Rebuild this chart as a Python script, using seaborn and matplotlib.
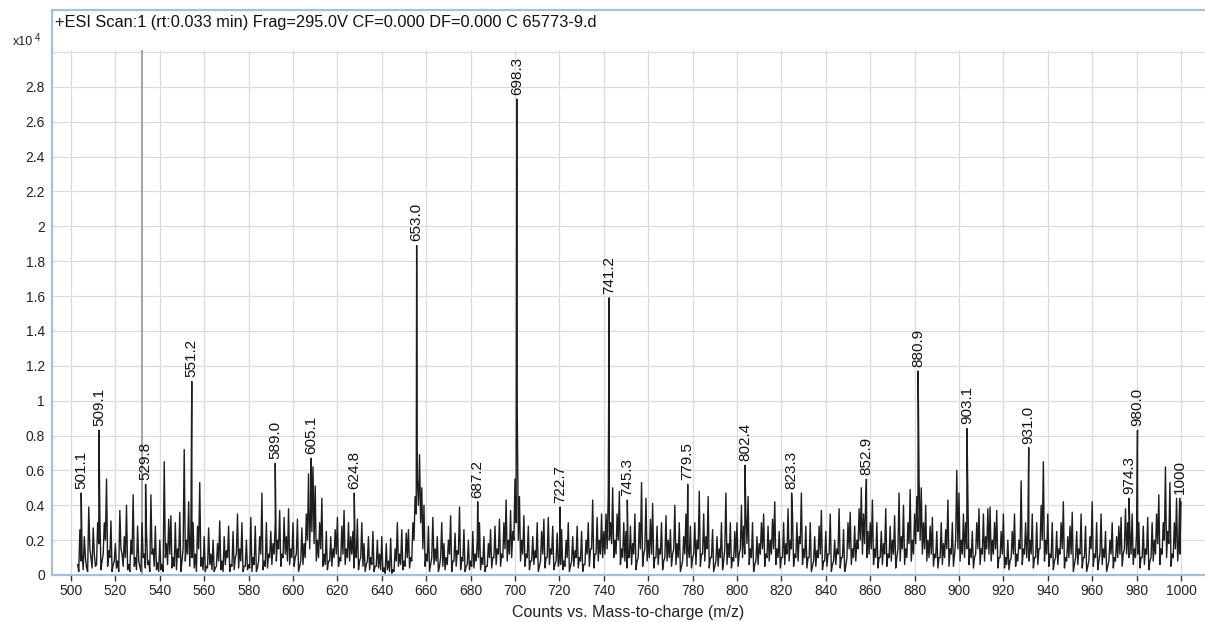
import numpy as np
import pandas as pd
import matplotlib
matplotlib.use("Agg")
import matplotlib.pyplot as plt
from matplotlib.lines import Line2D
import seaborn as sns

# ---------------- data (counts in units of 10^4) ----------------
title = "+ESI Scan:1 (rt:0.033 min) Frag=295.0V CF=0.000 DF=0.000 C 65773-9.d"
x_label = "Counts vs. Mass-to-charge (m/z)"
x_ticks = list(range(500, 1001, 20))
y_ticks = [0, 0.2, 0.4, 0.6, 0.8, 1.0, 1.2, 1.4, 1.6, 1.8, 2.0, 2.2, 2.4, 2.6, 2.8, 3.0]
y_tick_labels = ["0", "0.2", "0.4", "0.6", "0.8", "1", "1.2", "1.4", "1.6", "1.8",
                 "2", "2.2", "2.4", "2.6", "2.8", ""]

# noise tops at integer m/z (503 ... 1000)
noise_start = 503
noise_503_519 = [0.06, 0.26, 0.12, 0.22, 0.04, 0.39, 0.10, 0.27, 0.05, 0.30, 0.34, 0.08, 0.30, 0.55, 0.14, 0.31, 0.06]
noise_520_539 = [0.18, 0.08, 0.37, 0.12, 0.22, 0.40, 0.06, 0.20, 0.46, 0.10, 0.28, 0.05, 0.30, 0.12, 0.25, 0.08, 0.46, 0.15, 0.28, 0.07]
noise_540_559 = [0.20, 0.06, 0.65, 0.18, 0.32, 0.34, 0.10, 0.30, 0.15, 0.36, 0.08, 0.72, 0.20, 0.42, 0.25, 0.30, 0.12, 0.28, 0.53, 0.10]
noise_560_579 = [0.22, 0.05, 0.27, 0.12, 0.20, 0.04, 0.18, 0.31, 0.08, 0.22, 0.14, 0.28, 0.06, 0.25, 0.10, 0.35, 0.15, 0.30, 0.05, 0.20]
noise_580_599 = [0.06, 0.33, 0.10, 0.28, 0.04, 0.22, 0.47, 0.08, 0.30, 0.12, 0.25, 0.18, 0.30, 0.20, 0.37, 0.12, 0.33, 0.22, 0.38, 0.15]
noise_600_619 = [0.30, 0.10, 0.32, 0.05, 0.27, 0.18, 0.35, 0.58, 0.40, 0.62, 0.51, 0.20, 0.30, 0.44, 0.12, 0.25, 0.08, 0.22, 0.15, 0.26]
noise_620_639 = [0.33, 0.10, 0.28, 0.37, 0.15, 0.30, 0.22, 0.25, 0.12, 0.32, 0.08, 0.30, 0.18, 0.06, 0.22, 0.10, 0.25, 0.05, 0.20, 0.12]
noise_640_659 = [0.22, 0.04, 0.18, 0.08, 0.21, 0.03, 0.15, 0.30, 0.12, 0.26, 0.08, 0.24, 0.26, 0.10, 0.30, 0.45, 0.55, 0.69, 0.50, 0.40]
noise_660_679 = [0.12, 0.28, 0.06, 0.33, 0.15, 0.22, 0.05, 0.30, 0.18, 0.10, 0.20, 0.34, 0.08, 0.24, 0.14, 0.39, 0.10, 0.26, 0.05, 0.20]
noise_680_699 = [0.08, 0.25, 0.12, 0.20, 0.30, 0.10, 0.22, 0.05, 0.18, 0.26, 0.10, 0.28, 0.15, 0.32, 0.12, 0.30, 0.43, 0.20, 0.37, 0.25]
noise_700_719 = [0.55, 0.97, 0.45, 0.20, 0.34, 0.12, 0.28, 0.08, 0.22, 0.14, 0.30, 0.05, 0.25, 0.32, 0.10, 0.33, 0.15, 0.28, 0.06, 0.24]
noise_720_739 = [0.12, 0.26, 0.08, 0.20, 0.30, 0.05, 0.22, 0.14, 0.28, 0.10, 0.25, 0.06, 0.20, 0.30, 0.15, 0.43, 0.12, 0.33, 0.20, 0.35]
noise_740_759 = [0.25, 0.35, 0.45, 0.30, 0.50, 0.20, 0.35, 0.48, 0.15, 0.30, 0.25, 0.10, 0.28, 0.18, 0.35, 0.08, 0.30, 0.53, 0.12, 0.44]
noise_760_779 = [0.20, 0.32, 0.41, 0.10, 0.28, 0.15, 0.30, 0.08, 0.34, 0.20, 0.26, 0.12, 0.40, 0.18, 0.30, 0.05, 0.22, 0.35, 0.15, 0.28]
noise_780_799 = [0.10, 0.30, 0.20, 0.48, 0.12, 0.35, 0.22, 0.45, 0.10, 0.26, 0.05, 0.22, 0.15, 0.30, 0.08, 0.47, 0.18, 0.30, 0.10, 0.25]
noise_800_819 = [0.30, 0.12, 0.40, 0.28, 0.35, 0.45, 0.15, 0.30, 0.06, 0.22, 0.18, 0.30, 0.35, 0.12, 0.28, 0.20, 0.32, 0.42, 0.15, 0.25]
noise_820_839 = [0.10, 0.30, 0.18, 0.38, 0.20, 0.35, 0.12, 0.30, 0.22, 0.47, 0.15, 0.28, 0.10, 0.30, 0.05, 0.22, 0.14, 0.28, 0.37, 0.08]
noise_840_859 = [0.25, 0.12, 0.35, 0.06, 0.20, 0.15, 0.38, 0.10, 0.26, 0.05, 0.30, 0.36, 0.15, 0.28, 0.20, 0.38, 0.50, 0.35, 0.45, 0.25]
noise_860_879 = [0.30, 0.43, 0.15, 0.30, 0.10, 0.25, 0.18, 0.38, 0.12, 0.28, 0.20, 0.34, 0.10, 0.47, 0.22, 0.40, 0.15, 0.30, 0.49, 0.20]
noise_880_899 = [0.35, 0.45, 0.56, 0.50, 0.30, 0.40, 0.20, 0.28, 0.33, 0.12, 0.25, 0.10, 0.30, 0.18, 0.26, 0.43, 0.15, 0.30, 0.12, 0.60]
noise_900_919 = [0.47, 0.20, 0.35, 0.30, 0.45, 0.15, 0.25, 0.10, 0.30, 0.38, 0.15, 0.35, 0.22, 0.38, 0.39, 0.20, 0.30, 0.37, 0.10, 0.25]
noise_920_939 = [0.35, 0.10, 0.20, 0.08, 0.25, 0.35, 0.12, 0.20, 0.54, 0.15, 0.30, 0.25, 0.20, 0.35, 0.10, 0.30, 0.15, 0.40, 0.65, 0.20]
noise_940_959 = [0.35, 0.12, 0.30, 0.08, 0.25, 0.15, 0.30, 0.42, 0.10, 0.22, 0.28, 0.36, 0.06, 0.25, 0.15, 0.35, 0.10, 0.28, 0.05, 0.22]
noise_960_979 = [0.42, 0.12, 0.30, 0.08, 0.35, 0.15, 0.25, 0.05, 0.20, 0.30, 0.10, 0.22, 0.28, 0.33, 0.12, 0.38, 0.30, 0.25, 0.35, 0.15]
noise_980_1000 = [0.25, 0.30, 0.10, 0.28, 0.15, 0.33, 0.08, 0.30, 0.20, 0.35, 0.46, 0.15, 0.30, 0.62, 0.25, 0.53, 0.12, 0.30, 0.44, 0.20, 0.42]

# noise valleys at half-integer m/z (503.5 ... 999.5)
valley_503_519 = [0.02, 0.08, 0.03, 0.10, 0.02, 0.15, 0.04, 0.12, 0.06, 0.18, 0.03, 0.12, 0.20, 0.05, 0.10, 0.02, 0.08]
valley_520_539 = [0.04, 0.02, 0.15, 0.05, 0.10, 0.03, 0.02, 0.12, 0.05, 0.03, 0.08, 0.02, 0.10, 0.04, 0.06, 0.02, 0.12, 0.05, 0.03, 0.02]
valley_540_559 = [0.03, 0.02, 0.10, 0.06, 0.12, 0.04, 0.05, 0.03, 0.10, 0.02, 0.15, 0.08, 0.12, 0.05, 0.10, 0.04, 0.02, 0.15, 0.05, 0.03]
valley_560_579 = [0.02, 0.04, 0.06, 0.03, 0.02, 0.05, 0.08, 0.03, 0.02, 0.06, 0.10, 0.02, 0.05, 0.03, 0.12, 0.04, 0.08, 0.02, 0.05, 0.03]
valley_580_599 = [0.04, 0.02, 0.06, 0.02, 0.08, 0.12, 0.03, 0.05, 0.04, 0.10, 0.06, 0.12, 0.08, 0.15, 0.05, 0.10, 0.12, 0.08, 0.06, 0.10]
valley_600_619 = [0.05, 0.12, 0.02, 0.08, 0.06, 0.10, 0.20, 0.15, 0.25, 0.18, 0.08, 0.10, 0.15, 0.05, 0.06, 0.03, 0.08, 0.05, 0.10, 0.12]
valley_620_639 = [0.05, 0.08, 0.12, 0.06, 0.10, 0.08, 0.12, 0.04, 0.10, 0.03, 0.10, 0.05, 0.02, 0.08, 0.03, 0.06, 0.02, 0.05, 0.04, 0.03]
valley_640_659 = [0.02, 0.01, 0.03, 0.02, 0.01, 0.02, 0.08, 0.05, 0.06, 0.03, 0.05, 0.10, 0.04, 0.08, 0.20, 0.35, 0.40, 0.30, 0.15, 0.05]
valley_660_679 = [0.08, 0.02, 0.10, 0.06, 0.08, 0.02, 0.10, 0.05, 0.03, 0.06, 0.12, 0.02, 0.08, 0.05, 0.12, 0.03, 0.08, 0.02, 0.06, 0.03]
valley_680_699 = [0.05, 0.04, 0.08, 0.10, 0.03, 0.06, 0.02, 0.05, 0.10, 0.04, 0.10, 0.06, 0.12, 0.05, 0.10, 0.15, 0.08, 0.12, 0.10, 0.20]
valley_700_719 = [0.30, 0.20, 0.08, 0.12, 0.05, 0.10, 0.03, 0.08, 0.06, 0.10, 0.02, 0.08, 0.12, 0.04, 0.10, 0.06, 0.12, 0.03, 0.08, 0.05]
valley_720_739 = [0.06, 0.03, 0.05, 0.10, 0.02, 0.08, 0.05, 0.10, 0.04, 0.08, 0.02, 0.06, 0.12, 0.05, 0.15, 0.04, 0.12, 0.08, 0.12, 0.10]
valley_740_759 = [0.12, 0.15, 0.20, 0.18, 0.10, 0.12, 0.20, 0.06, 0.10, 0.08, 0.04, 0.10, 0.06, 0.12, 0.03, 0.10, 0.15, 0.05, 0.15, 0.08]
valley_760_779 = [0.10, 0.12, 0.04, 0.10, 0.06, 0.12, 0.03, 0.10, 0.08, 0.10, 0.05, 0.15, 0.06, 0.10, 0.02, 0.08, 0.12, 0.05, 0.10, 0.04]
valley_780_799 = [0.12, 0.06, 0.15, 0.05, 0.12, 0.08, 0.15, 0.04, 0.10, 0.02, 0.08, 0.05, 0.10, 0.03, 0.15, 0.06, 0.10, 0.04, 0.08, 0.10]
valley_800_819 = [0.05, 0.15, 0.10, 0.12, 0.18, 0.06, 0.10, 0.02, 0.08, 0.06, 0.12, 0.15, 0.05, 0.10, 0.08, 0.12, 0.15, 0.06, 0.10, 0.04]
valley_820_839 = [0.10, 0.06, 0.12, 0.08, 0.15, 0.05, 0.10, 0.08, 0.18, 0.06, 0.10, 0.04, 0.10, 0.02, 0.08, 0.05, 0.10, 0.12, 0.03, 0.08]
valley_840_859 = [0.05, 0.12, 0.02, 0.08, 0.06, 0.12, 0.04, 0.10, 0.02, 0.10, 0.15, 0.06, 0.10, 0.08, 0.15, 0.20, 0.12, 0.18, 0.10, 0.12]
valley_860_879 = [0.15, 0.06, 0.10, 0.04, 0.10, 0.06, 0.12, 0.05, 0.10, 0.08, 0.12, 0.04, 0.15, 0.08, 0.15, 0.06, 0.10, 0.18, 0.08, 0.12]
valley_880_899 = [0.18, 0.25, 0.20, 0.12, 0.15, 0.08, 0.10, 0.12, 0.05, 0.10, 0.04, 0.10, 0.06, 0.10, 0.15, 0.05, 0.12, 0.05, 0.20, 0.15]
valley_900_919 = [0.08, 0.12, 0.10, 0.15, 0.06, 0.10, 0.04, 0.12, 0.15, 0.06, 0.12, 0.08, 0.15, 0.12, 0.08, 0.12, 0.15, 0.04, 0.10, 0.12]
valley_920_939 = [0.04, 0.06, 0.03, 0.10, 0.12, 0.05, 0.08, 0.15, 0.06, 0.12, 0.10, 0.08, 0.12, 0.04, 0.10, 0.06, 0.15, 0.20, 0.08, 0.12]
valley_940_959 = [0.05, 0.10, 0.03, 0.10, 0.06, 0.12, 0.15, 0.04, 0.08, 0.10, 0.12, 0.02, 0.10, 0.06, 0.12, 0.04, 0.10, 0.02, 0.08, 0.15]
valley_960_979 = [0.05, 0.10, 0.03, 0.12, 0.06, 0.10, 0.02, 0.08, 0.12, 0.04, 0.08, 0.10, 0.12, 0.05, 0.15, 0.12, 0.10, 0.12, 0.06, 0.10]
valley_980_999 = [0.12, 0.04, 0.10, 0.06, 0.12, 0.03, 0.10, 0.08, 0.12, 0.18, 0.06, 0.12, 0.20, 0.10, 0.18, 0.05, 0.10, 0.15, 0.08, 0.12]

peak_mz = [504.6, 512.6, 533.6, 554.4, 592.0, 608.2, 627.6, 655.7, 683.2, 700.8,
           720.3, 742.4, 750.6, 777.8, 803.6, 824.6, 858.3, 881.6, 903.6, 931.4,
           976.6, 980.4, 999.4]
peak_height = [0.47, 0.83, 0.52, 1.11, 0.64, 0.67, 0.47, 1.89, 0.42, 2.73,
               0.39, 1.59, 0.43, 0.52, 0.63, 0.47, 0.55, 1.17, 0.84, 0.73,
               0.44, 0.83, 0.44]
peak_label = ["501.1", "509.1", "529.8", "551.2", "589.0", "605.1", "624.8", "653.0",
              "687.2", "698.3", "722.7", "741.2", "745.3", "779.5", "802.4", "823.3",
              "852.9", "880.9", "903.1", "931.0", "974.3", "980.0", "1000"]
cursor_mz = 531.8

# ---------------- assemble spectrum ----------------
noise = (noise_503_519 + noise_520_539 + noise_540_559 + noise_560_579 + noise_580_599 +
         noise_600_619 + noise_620_639 + noise_640_659 + noise_660_679 + noise_680_699 +
         noise_700_719 + noise_720_739 + noise_740_759 + noise_760_779 + noise_780_799 +
         noise_800_819 + noise_820_839 + noise_840_859 + noise_860_879 + noise_880_899 +
         noise_900_919 + noise_920_939 + noise_940_959 + noise_960_979 + noise_980_1000)
valleys = (valley_503_519 + valley_520_539 + valley_540_559 + valley_560_579 + valley_580_599 +
           valley_600_619 + valley_620_639 + valley_640_659 + valley_660_679 + valley_680_699 +
           valley_700_719 + valley_720_739 + valley_740_759 + valley_760_779 + valley_780_799 +
           valley_800_819 + valley_820_839 + valley_840_859 + valley_860_879 + valley_880_899 +
           valley_900_919 + valley_920_939 + valley_940_959 + valley_960_979 + valley_980_999)
noise_mz = np.arange(noise_start, noise_start + len(noise))
valley_mz = np.arange(noise_start, noise_start + len(valleys)) + 0.5
df = pd.DataFrame({"mz": np.concatenate([noise_mz, valley_mz, peak_mz]),
                   "counts": np.concatenate([noise, valleys, peak_height])}).sort_values("mz")

# ---------------- figure ----------------
sns.set_theme(style="white")
plt.rcParams["font.family"] = ["Liberation Sans", "DejaVu Sans"]

W, H = 1205, 622
fig = plt.figure(figsize=(W / 100, H / 100), dpi=100)
ax_left, ax_right, ax_top, ax_bottom = 52, 1205, 50, 575
ax = fig.add_axes([ax_left / W, 1 - ax_bottom / H, (ax_right - ax_left) / W, (ax_bottom - ax_top) / H])

spine_col = "#a7c0d8"
grid_col = "#dcdcdc"

ax.axvline(cursor_mz, color="#9c9c9c", lw=1.3, zorder=1.6)
sns.lineplot(data=df, x="mz", y="counts", estimator=None, sort=True,
             color="#1e1e1e", lw=1.0, ax=ax, zorder=2)

for x, h, lab in zip(peak_mz, peak_height, peak_label):
    ax.annotate(lab, xy=(x, h), xytext=(0, 3), textcoords="offset points",
                rotation=90, ha="center", va="bottom", fontsize=11, color="#111111", zorder=3)

px_per_unit = (1181 - 71) / 500.0
ax.set_xlim(500 - (71 - ax_left) / px_per_unit, 500 + (ax_right - 71) / px_per_unit)
y_px = (575 - 52) / 3.0
ax.set_ylim(0, 3.0 + (52 - ax_top) / y_px)

ax.set_xticks(x_ticks)
ax.set_xticklabels([str(t) for t in x_ticks])
ax.set_yticks(y_ticks)
ax.set_yticklabels(y_tick_labels)
ax.grid(True, color=grid_col, lw=0.9)
ax.set_axisbelow(True)
ax.tick_params(axis="x", bottom=True, length=4, width=1, color="#333333", pad=2.5,
               labelsize=10, labelcolor="#222222")
ax.tick_params(axis="y", left=False, length=0, pad=5, labelsize=10, labelcolor="#222222")
ax.set_xlabel(x_label, fontsize=11.5, color="#222222", labelpad=5)
ax.set_ylabel("")

for s in ["top", "right"]:
    ax.spines[s].set_visible(False)
for s in ["left", "bottom"]:
    ax.spines[s].set_color(spine_col)
    ax.spines[s].set_linewidth(1.6)

# header box: top line and left line continuing the spine
fig.add_artist(Line2D([ax_left / W, 1.0], [1 - 10 / H, 1 - 10 / H], color=spine_col, lw=1.6))
fig.add_artist(Line2D([ax_left / W, ax_left / W], [1 - 10 / H, 1 - ax_top / H], color=spine_col, lw=1.6))

t = fig.text(55 / W, 1 - 23 / H, title, ha="left", va="center", fontsize=12, color="#111111")
fig.canvas.draw()
w = t.get_window_extent(fig.canvas.get_renderer()).width
t.set_fontsize(12 * 540 / w)

fig.text(33 / W, 1 - 42 / H, "x10", ha="right", va="center", fontsize=9, color="#222222")
fig.text(35 / W, 1 - 38 / H, "4", ha="left", va="center", fontsize=7, color="#222222")

fig.savefig("out.png", dpi=100)
